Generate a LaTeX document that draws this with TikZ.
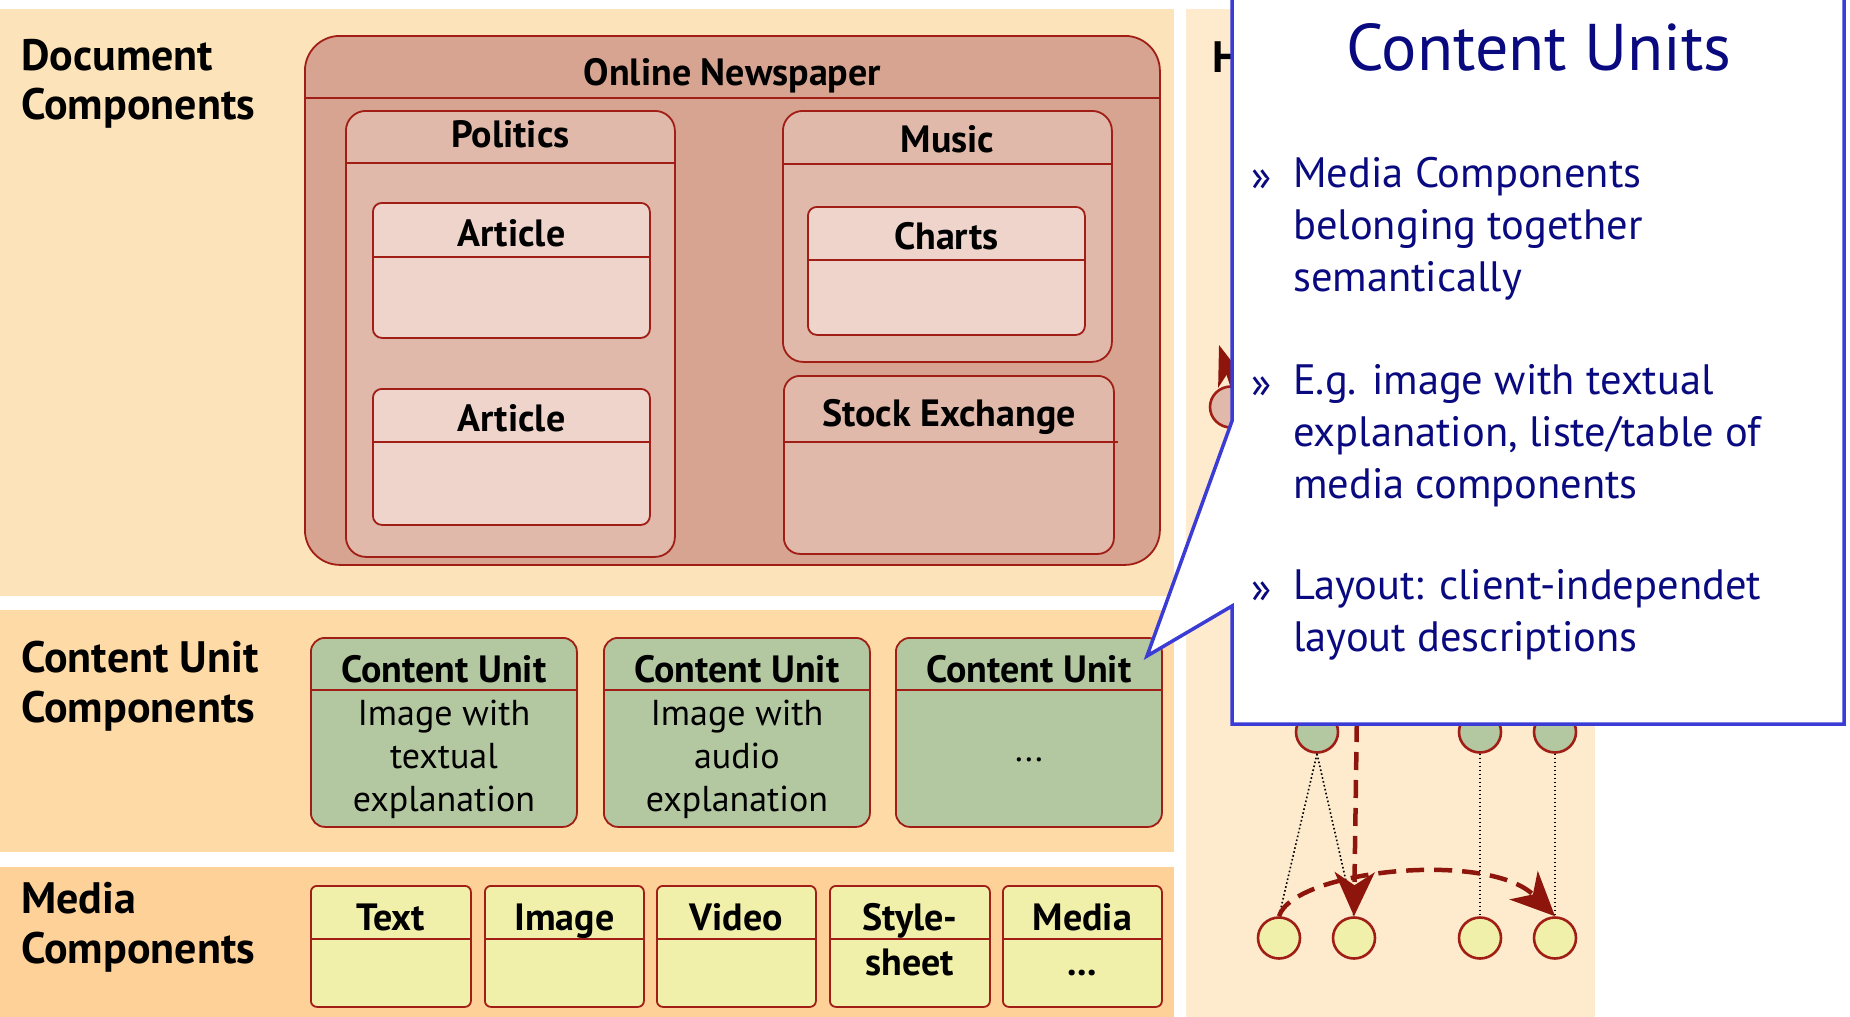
\documentclass[tikz,border=0pt]{standalone}
\usepackage{fontspec}
\setmainfont{PT Sans}
\usetikzlibrary{arrows.meta,shapes.geometric}
\definecolor{bandA}{HTML}{FDE3B9}
\definecolor{bandB}{HTML}{FDDAA6}
\definecolor{bandC}{HTML}{FDD198}
\definecolor{bandR}{HTML}{FEEBCD}
\definecolor{npc}{HTML}{D6A491}
\definecolor{secc}{HTML}{E0B9AB}
\definecolor{artc}{HTML}{EED4CA}
\definecolor{cug}{HTML}{B3C8A0}
\definecolor{mey}{HTML}{F0F0AA}
\definecolor{bord}{HTML}{A01E16}
\definecolor{arr}{HTML}{8E150C}
\definecolor{calb}{HTML}{3B3BD6}
\definecolor{navy}{HTML}{0A0A80}
\begin{document}
\begin{tikzpicture}[x=1pt,y=-1pt,
  cbox/.style={draw=bord, line width=1.8pt, anchor=north west, inner sep=0pt},
  hline/.style={draw=bord, line width=1.8pt},
  ttl/.style={font=\fontsize{38}{42}\selectfont\bfseries, inner sep=0pt, text height=26.6pt, text depth=0pt},
  body/.style={font=\fontsize{36}{43}\selectfont, align=center, inner sep=0pt},
  lbl/.style={font=\fontsize{44}{49.5}\selectfont\bfseries, align=left, anchor=west, inner sep=0pt},
  circ/.style={ellipse, draw=bord, line width=2.6pt, minimum width=42pt, minimum height=41pt, inner sep=0pt},
  dotl/.style={black, line width=1.6pt, dash pattern=on 1.6pt off 2.4pt},
  darr/.style={arr, line width=4.5pt, dash pattern=on 18pt off 10pt, -{Stealth[length=44pt,width=40pt,inset=13pt]}},
  bul/.style={font=\fontsize{42.5}{52}\selectfont, text=navy, align=left, anchor=north west, inner sep=0pt},
  bulmark/.style={font=\fontsize{42.5}{52}\selectfont, text=navy, anchor=north west, inner sep=0pt}
]
\useasboundingbox (0,0) rectangle (1850,1017);
% background bands
\fill[bandA] (0,9) rectangle (1174,596);
\fill[bandB] (0,610) rectangle (1174,852);
\fill[bandC] (0,867) rectangle (1174,1017);
\fill[bandR] (1186,9) rectangle (1595,1017);

% left labels
\node[lbl] (lDoc) at (21,84) {Document\\Components};
\node[lbl] (lCU) at (21,686) {Content Unit\\Components};
\node[lbl] (lMed) at (21,927) {Media\\Components};
\node[lbl, align=center] (lH) at (1212,57) {H};

% Online newspaper
\node[cbox, fill=npc, rounded corners=35pt, minimum width=855pt, minimum height=529pt] (np) at (304,35) {};
\draw[hline] (np.west |- 0,98) -- (np.east |- 0,98);
\node[ttl] (npt) at (np.north |- 0,72) {Online Newspaper};

% Politics
\node[cbox, fill=secc, rounded corners=20pt, minimum width=329pt, minimum height=446pt] (pol) at (345,110) {};
\draw[hline] (pol.west |- 0,163) -- (pol.east |- 0,163);
\node[ttl] (polt) at (pol.north |- 0,134) {Politics};

\node[cbox, fill=artc, rounded corners=9pt, minimum width=277pt, minimum height=135pt] (a1) at (372,202) {};
\draw[hline] (a1.west |- 0,257) -- (a1.east |- 0,257);
\node[ttl] (a1t) at (a1.north |- 0,233) {Article};

\node[cbox, fill=artc, rounded corners=9pt, minimum width=277pt, minimum height=136pt] (a2) at (372,388) {};
\draw[hline] (a2.west |- 0,442) -- (a2.east |- 0,442);
\node[ttl] (a2t) at (a2.north |- 0,418) {Article};

% Music
\node[cbox, fill=secc, rounded corners=20pt, minimum width=329pt, minimum height=251pt] (mus) at (782,110) {};
\draw[hline] (mus.west |- 0,164) -- (mus.east |- 0,164);
\node[ttl] (must) at (mus.north |- 0,139) {Music};

\node[cbox, fill=artc, rounded corners=9pt, minimum width=277pt, minimum height=128pt] (ch) at (807,206) {};
\draw[hline] (ch.west |- 0,260) -- (ch.east |- 0,260);
\node[ttl] (cht) at (ch.north |- 0,236) {Charts};

% Stock exchange
\node[cbox, fill=secc, rounded corners=16pt, minimum width=330pt, minimum height=178pt] (st) at (783,375) {};
\draw[hline] (st.west |- 0,442) -- ([xshift=3pt]st.east |- 0,442);
\node[ttl] (stt) at (st.north |- 0,413) {Stock Exchange};

% Content units
\foreach \n/\x in {cu1/310, cu2/603, cu3/895}{
  \node[cbox, fill=cug, rounded corners=14pt, minimum width=266pt, minimum height=189pt] (\n) at (\x,637) {};
  \draw[hline] (\n.west |- 0,690) -- (\n.east |- 0,690);
  \node[ttl] (\n t) at (\n.north |- 0,669) {Content Unit};
}
\node[body] (cu1b) at (cu1.center |- 0,759) {Image with\\textual\\explanation};
\node[body] (cu2b) at (cu2.center |- 0,759) {Image with\\audio\\explanation};
\node[body] (cu3b) at (cu3.center |- 0,760) {...};

% Media components
\foreach \n/\x/\w/\t in {mtext/310/160/Text, mimg/484/159/Image, mvid/656/159/Video, msty/829/160/Style-, mmed/1002/159/Media}{
  \node[cbox, fill=mey, rounded corners=6pt, minimum width=\w pt, minimum height=121pt] (\n) at (\x,885) {};
  \draw[hline] (\n.west |- 0,939) -- (\n.east |- 0,939);
  \node[ttl] (\n t) at (\n.north |- 0,917) {\t};
}
\node[ttl] (mstyb) at (msty.north |- 0,962) {sheet};
\node[ttl] (mmedb) at (mmed.north |- 0,962) {...};

% right structure
\node[circ, fill=secc] (r1) at (1231,407) {};
\coordinate (r1src) at (1252,445);
\coordinate (r1tip) at (1219,345);
\draw[arr, line width=4.5pt, -{Stealth[length=40pt,width=28pt,inset=11pt]}] (r1src) -- (r1tip);

\node[circ, fill=cug] (g1) at (1317,732) {};
\node[circ, fill=cug] (g2) at (1480,732) {};
\node[circ, fill=cug] (g3) at (1555,732) {};
\node[circ, fill=mey] (y1) at (1279,938) {};
\node[circ, fill=mey] (y2) at (1354,938) {};
\node[circ, fill=mey] (y3) at (1480,938) {};
\node[circ, fill=mey] (y4) at (1555,938) {};

\draw[dotl] (g1.south) -- (y1.north);
\draw[dotl] (g1.south) -- (y2.north);
\draw[dotl] (g2.south) -- (y3.north);
\draw[dotl] (g3.south) -- (y4.north);

\coordinate (vsrc) at (1358,640);
\draw[darr] (vsrc) -- (y2.north);
\draw[darr] (y1.north) .. controls (1294,870) and (1488,850) .. (y4.north);

% callout
\draw[calb, line width=3.5pt, fill=white, line join=miter]
  (1232,-20) -- (1232,421) -- (1147,656) -- (1232,606) -- (1232,724) -- (1844,724) -- (1844,-20);
\node[font=\fontsize{66}{72}\selectfont, text=navy, inner sep=0pt] (cTitle) at (1539,47) {Content Units};
\node[bulmark] (b1) at (1251,170) {»};
\node[bul] (b1t) at (1293,157) {Media Components\\belonging together\\semantically};
\node[bulmark] (b2) at (1251,377) {»};
\node[bul] (b2t) at (1293,364) {E.g. image with textual\\explanation, liste/table of\\media components};
\node[bulmark] (b3) at (1251,582) {»};
\node[bul] (b3t) at (1293,569) {Layout: client-independet\\layout descriptions};
\end{tikzpicture}
\end{document}
